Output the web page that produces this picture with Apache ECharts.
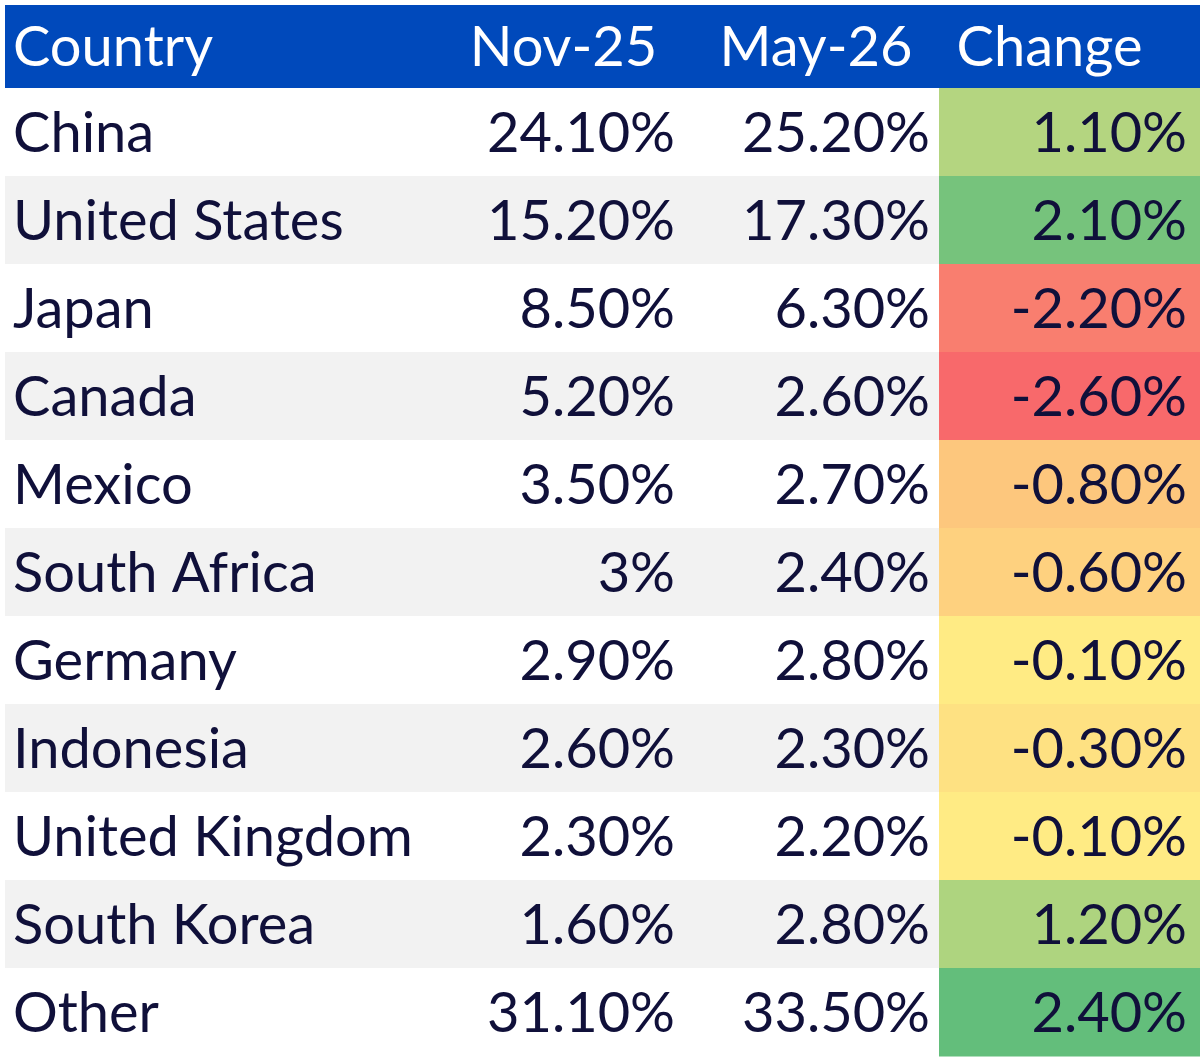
<!DOCTYPE html>
<html><head><meta charset="utf-8">
<script src="https://cdn.jsdelivr.net/npm/echarts@6/dist/echarts.min.js"></script>
<style>html,body{margin:0;padding:0;background:#fff}#c{width:1200px;height:1060px}</style>
</head><body><div id="c"></div>
<script>
// ---- data ----
const headers = ['Country', 'Nov-25', 'May-26', 'Change'];
const countries = ['China', 'United States', 'Japan', 'Canada', 'Mexico', 'South Africa', 'Germany', 'Indonesia', 'United Kingdom', 'South Korea', 'Other'];
const nov25 = [24.1, 15.2, 8.5, 5.2, 3.5, 3, 2.9, 2.6, 2.3, 1.6, 31.1];
const may26 = [25.2, 17.3, 6.3, 2.6, 2.7, 2.4, 2.8, 2.3, 2.2, 2.8, 33.5];
const change = [1.1, 2.1, -2.2, -2.6, -0.8, -0.6, -0.1, -0.3, -0.1, 1.2, 2.4];

// ---- style / layout ----
const rows = ['header'].concat(countries);
const FONT_FAMILY = 'Lato';
const FS = 56;
const TEXT = '#10103a';
const HEAD_BG = '#0049BB';
const STRIPE = '#F2F2F2';
const HEAD_TOP = 5;
const cols = [
  {left: 5,   width: 435, headAlign: 'left',   headDx: 8,   valAlign: 'left',  valDx: 8},
  {left: 440, width: 247, headAlign: 'center', headDx: 0,   valAlign: 'right', valDx: -12},
  {left: 687, width: 252, headAlign: 'center', headDx: 3,   valAlign: 'right', valDx: -9},
  {left: 939, width: 261, headAlign: 'center', headDx: -20, valAlign: 'right', valDx: -13}
];
const colValues = [null, nov25, may26, change];

function fmt(v) {
  return (Number.isInteger(v) ? String(v) : v.toFixed(2)) + '%';
}
function font() { return FS + 'px ' + FONT_FAMILY; }

const chart = echarts.init(document.getElementById('c'), null, {renderer: 'canvas'});

const grids = cols.map(c => ({left: c.left, width: c.width, top: 0, height: 88 * rows.length}));
const xAxes = cols.map((c, i) => ({type: 'category', gridIndex: i, data: [headers[i]], show: false}));
const yAxes = cols.map((c, i) => ({type: 'category', gridIndex: i, data: rows, inverse: true, show: false}));

function bodyRender(ci) {
  return function (params, api) {
    const ctr = api.coord([api.value(0), api.value(1)]);
    const sz = api.size([1, 1]);
    const w = sz[0], h = sz[1];
    const x0 = ctr[0] - w / 2, y0 = ctr[1] - h / 2;
    const r = api.value(1);
    let fill = (r % 2 === 0) ? STRIPE : '#ffffff';
    if (ci === 3) fill = api.visual('color');
    const txt = ci === 0 ? countries[params.dataIndex] : fmt(api.value(2));
    const c = cols[ci];
    const tx = c.valAlign === 'left' ? x0 + c.valDx : x0 + w + c.valDx;
    return {
      type: 'group',
      children: [
        {type: 'rect', shape: {x: x0, y: y0, width: w + 0.5, height: h + 0.5}, style: {fill: fill}},
        {type: 'text', style: {x: tx, y: ctr[1] + 2, text: txt, fill: TEXT, font: font(), align: c.valAlign, verticalAlign: 'middle'}}
      ]
    };
  };
}
function headRender(ci) {
  return function (params, api) {
    const ctr = api.coord([0, 0]);
    const sz = api.size([1, 1]);
    const w = sz[0], h = sz[1];
    const x0 = ctr[0] - w / 2, y0 = ctr[1] - h / 2 + HEAD_TOP;
    const hh = h - HEAD_TOP;
    const c = cols[ci];
    const tx = c.headAlign === 'left' ? x0 + c.headDx : x0 + w / 2 + c.headDx;
    return {
      type: 'group',
      children: [
        {type: 'rect', shape: {x: x0, y: y0, width: w + 0.5, height: hh}, style: {fill: HEAD_BG}},
        {type: 'text', style: {x: tx, y: y0 + hh / 2 + 1, text: headers[ci], fill: '#ffffff', font: font(), align: c.headAlign, verticalAlign: 'middle'}}
      ]
    };
  };
}

const series = [];
cols.forEach((c, ci) => {
  const data = countries.map((name, i) => {
    const vals = colValues[ci];
    return vals ? [0, i + 1, vals[i]] : [0, i + 1, i + 1];
  });
  series.push({
    type: 'custom', xAxisIndex: ci, yAxisIndex: ci, renderItem: bodyRender(ci),
    data: data, silent: true, animation: false,
    encode: {x: 0, y: 1}
  });
});
cols.forEach((c, ci) => {
  series.push({
    type: 'custom', xAxisIndex: ci, yAxisIndex: ci, renderItem: headRender(ci),
    data: [[0, 0]], silent: true, animation: false, encode: {x: 0, y: 1}
  });
});

chart.setOption({
  animation: false,
  grid: grids,
  xAxis: xAxes,
  yAxis: yAxes,
  visualMap: {
    type: 'continuous', show: false, seriesIndex: 3, dimension: 2,
    min: Math.min.apply(null, change), max: Math.max.apply(null, change),
    inRange: {color: ['#F8696B', '#FFEB84', '#63BE7B']}
  },
  series: series
});
</script>
</body></html>
